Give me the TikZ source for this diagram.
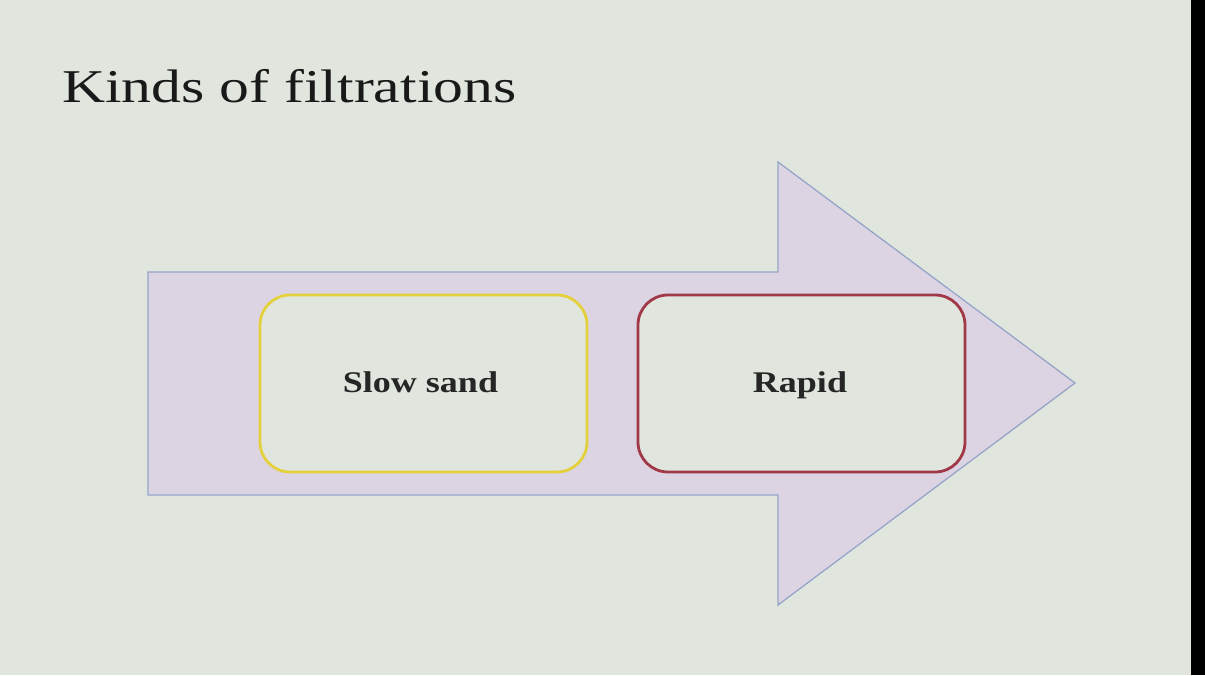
\documentclass[tikz,border=0pt]{standalone}
\usepackage{fontspec}
\setmainfont{Liberation Serif}
\definecolor{bg}{RGB}{224,230,222}
\definecolor{arrowfill}{RGB}{220,212,226}
\definecolor{arrowline}{RGB}{150,165,200}
\definecolor{yel}{RGB}{228,208,60}
\definecolor{redb}{RGB}{160,56,72}
\tikzset{
  box/.style={line width=2.8pt, rounded corners=30pt, fill=bg},
  lbl/.style={font=\fontsize{30}{36}\selectfont\bfseries, text=black!85, inner sep=0pt, anchor=base, xscale=1.2}
}
\begin{document}
\begin{tikzpicture}[x=1pt,y=1pt]
\fill[bg] (0,0) rectangle (1205,675);
\useasboundingbox (0,0) rectangle (1205,675);
\fill[black] (1191,0) rectangle (1205,675);
\node[font=\fontsize{47}{56}\selectfont, text=black!90, inner sep=0pt, anchor=base west, xscale=1.27] (title) at (62,572) {Kinds of filtrations};
\draw[draw=arrowline, fill=arrowfill, line width=1.3pt] (148,403) -- (778,403) -- (778,513) -- (1075,292) -- (778,70) -- (778,180) -- (148,180) -- cycle;
\draw[box, draw=yel] (260,380) rectangle (587,203);
\draw[box, draw=redb] (638,380) rectangle (965,203);
\node[lbl] (slow) at (420.5,282) {Slow sand};
\node[lbl] (rapid) at (800,282) {Rapid};
\end{tikzpicture}
\end{document}
